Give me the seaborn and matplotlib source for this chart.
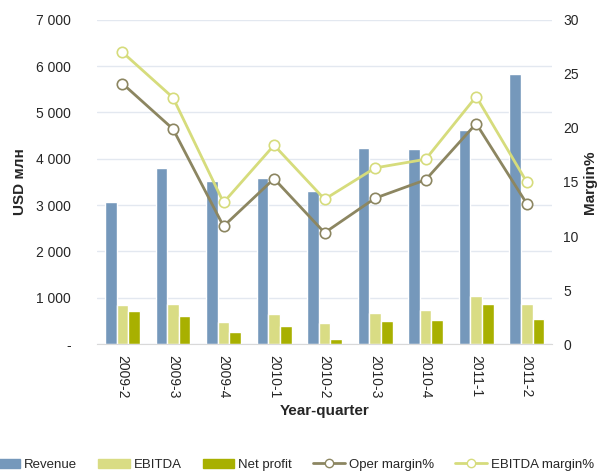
import pandas as pd
import matplotlib.pyplot as plt
import matplotlib.ticker as mticker
from matplotlib.lines import Line2D
from matplotlib.patches import Patch
import seaborn as sns

sns.set_style("white")
plt.rcParams["font.family"] = ["Liberation Sans", "DejaVu Sans"]

quarters = ["2009-2", "2009-3", "2009-4", "2010-1", "2010-2",
            "2010-3", "2010-4", "2011-1", "2011-2"]
revenue = [3070, 3800, 3520, 3590, 3300, 4235, 4210, 4625, 5835]
ebitda = [845, 865, 475, 650, 455, 670, 735, 1040, 865]
net_profit = [715, 605, 260, 390, 110, 500, 520, 865, 540]
oper_margin = [24.1, 19.9, 10.9, 15.3, 10.3, 13.5, 15.2, 20.4, 13.0]
ebitda_margin = [27.0, 22.8, 13.1, 18.4, 13.4, 16.3, 17.1, 22.9, 15.0]

c_rev = "#7598bb"
c_ebitda = "#d9dc84"
c_np = "#a8b000"
c_oper = "#8c8661"
c_ebm = "#d6dc7c"

bars = pd.DataFrame({
    "quarter": quarters * 3,
    "value": revenue + ebitda + net_profit,
    "series": ["Revenue"] * 9 + ["EBITDA"] * 9 + ["Net profit"] * 9,
})

fig = plt.figure(figsize=(6, 4.72), dpi=100)
ax = fig.add_axes([0.162, 0.271, 0.758, 0.687])
sns.barplot(data=bars, x="quarter", y="value", hue="series",
            palette=[c_rev, c_ebitda, c_np], width=0.69, gap=0,
            saturation=1, ax=ax, legend=False)
ax.set_ylim(0, 7000)
ax.set_yticks(range(0, 7001, 1000))
ax.yaxis.set_major_formatter(mticker.FuncFormatter(
    lambda v, p: "-" if v == 0 else f"{v:,.0f}".replace(",", " ")))
ax.grid(axis="y", color="#e3e8f0", linewidth=1)
ax.set_axisbelow(True)
for s in ["top", "left", "right"]:
    ax.spines[s].set_visible(False)
ax.spines["bottom"].set_color("#d9d9d9")
ax.tick_params(axis="y", length=0, pad=19, labelsize=10)
ax.tick_params(axis="x", length=0, pad=8, labelsize=10, labelrotation=270)
ax.set_xlabel("Year-quarter", fontsize=11, fontweight="bold", labelpad=4)
ax.set_ylabel("USD млн", fontsize=11, fontweight="bold", labelpad=6)

ax2 = ax.twinx()
sns.lineplot(x=quarters, y=oper_margin, color=c_oper, marker="o",
             markerfacecolor="white", markeredgecolor=c_oper,
             markeredgewidth=1.2, markersize=7.5, linewidth=2, ax=ax2)
sns.lineplot(x=quarters, y=ebitda_margin, color=c_ebm, marker="o",
             markerfacecolor="white", markeredgecolor=c_ebm,
             markeredgewidth=1.2, markersize=7.5, linewidth=2, ax=ax2)
ax2.set_ylim(0, 30)
ax2.set_yticks(range(0, 31, 5))
ax.set_xlim(-0.5, len(quarters) - 0.5)
for s in ["top", "left", "right", "bottom"]:
    ax2.spines[s].set_visible(False)
ax2.tick_params(axis="y", length=0, pad=8, labelsize=10)
ax2.set_ylabel("Margin%", fontsize=11, fontweight="bold", labelpad=3)

handles = [
    Patch(color=c_rev, label="Revenue"),
    Patch(color=c_ebitda, label="EBITDA"),
    Patch(color=c_np, label="Net profit"),
    Line2D([], [], color=c_oper, lw=2, marker="o", markerfacecolor="white",
           markersize=6, label="Oper margin%"),
    Line2D([], [], color=c_ebm, lw=2, marker="o", markerfacecolor="white",
           markersize=6, label="EBITDA margin%"),
]
fig.legend(handles=handles, loc="center", bbox_to_anchor=(0.485, 0.015),
           ncol=5, frameon=False, fontsize=9.5, handlelength=2.4,
           columnspacing=1.6, handletextpad=0.3)

fig.savefig("out.png", dpi=100)
